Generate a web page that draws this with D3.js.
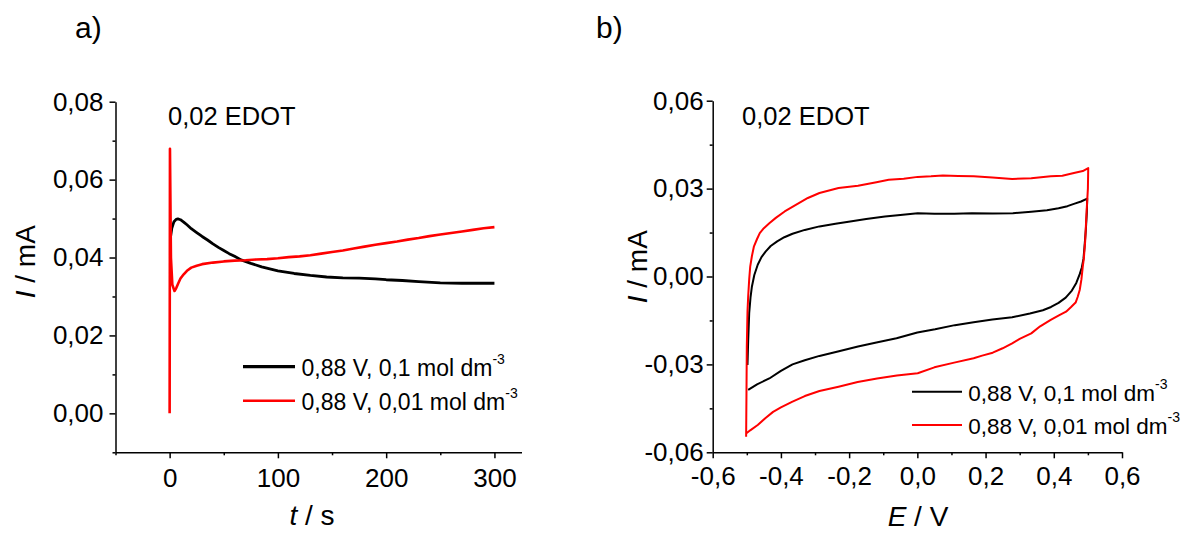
<!DOCTYPE html>
<html>
<head>
<meta charset="utf-8">
<script src="https://cdn.jsdelivr.net/npm/d3@7"></script>
<style>
  html, body { margin: 0; padding: 0; background: #fff; }
  svg { display: block; }
  text { font-family: "Liberation Sans", Arial, sans-serif; fill: #000; }
</style>
</head>
<body>
<svg id="chart" width="1190" height="533"></svg>
<script>
// ---------------- DATA ----------------
// Panel a: chronoamperometry (t / s, I / mA)
const tA_black = [0.8, 2, 4, 6, 7.6, 10, 13, 16, 20, 25, 30, 35, 40, 45, 50, 55, 60, 66, 75, 85, 100, 115, 130, 145, 160, 175, 190, 200, 215, 230, 250, 270, 285, 300];
const iA_black = [0.0452, 0.0475, 0.0492, 0.0498, 0.0499, 0.0497, 0.0491, 0.0484, 0.0474, 0.0464, 0.0454, 0.0445, 0.0435, 0.0426, 0.0418, 0.0410, 0.0403, 0.0394, 0.0385, 0.0376, 0.0366, 0.0359, 0.0354, 0.0350, 0.0348, 0.0347, 0.0345, 0.0343, 0.0341, 0.0338, 0.0335, 0.0334, 0.0334, 0.0334];

const tA_red = [0, 0.3, 1.2, 2.5, 4.5, 6, 8, 10, 13, 16, 20, 25, 30, 40, 50, 60, 70, 80, 90, 100, 110, 120, 130, 140, 150, 160, 170, 180, 190, 200, 210, 220, 230, 240, 250, 260, 270, 280, 290, 300];
const iA_red = [0.0000, 0.0679, 0.0400, 0.0330, 0.0314, 0.0321, 0.0334, 0.0346, 0.0357, 0.0366, 0.0374, 0.0379, 0.0383, 0.0387, 0.0390, 0.0392, 0.0393, 0.0395, 0.0396, 0.0398, 0.0401, 0.0403, 0.0406, 0.0410, 0.0414, 0.0418, 0.0423, 0.0428, 0.0433, 0.0437, 0.0441, 0.0446, 0.0450, 0.0455, 0.0459, 0.0463, 0.0467, 0.0471, 0.0475, 0.0478];

// Panel b: cyclic voltammetry (E / V, I / mA)
const eB_black = [-0.498, -0.496, -0.493, -0.489, -0.485, -0.478, -0.468, -0.457, -0.445, -0.430, -0.411, -0.390, -0.366, -0.330, -0.287, -0.240, -0.197, -0.150, -0.095, -0.050, 0.001, 0.050, 0.108, 0.160, 0.221, 0.280, 0.334, 0.380, 0.414, 0.440, 0.459, 0.480, 0.498,
  0.497, 0.494, 0.490, 0.487, 0.482, 0.476, 0.466, 0.453, 0.435, 0.414, 0.392, 0.368, 0.330, 0.278, 0.220, 0.165, 0.110, 0.052, 0.000, -0.061, -0.120, -0.174, -0.230, -0.287, -0.330, -0.366, -0.400, -0.434, -0.470, -0.496];
const iB_black = [-0.0302, -0.0220, -0.0125, -0.0070, -0.0034, 0.0005, 0.0040, 0.0066, 0.0085, 0.0104, 0.0120, 0.0134, 0.0146, 0.0159, 0.0171, 0.0180, 0.0188, 0.0196, 0.0205, 0.0210, 0.0216, 0.0214, 0.0214, 0.0216, 0.0215, 0.0216, 0.0221, 0.0226, 0.0233, 0.0240, 0.0248, 0.0256, 0.0266,
  0.0220, 0.0160, 0.0100, 0.0060, 0.0030, 0.0008, -0.0022, -0.0048, -0.0072, -0.0090, -0.0104, -0.0115, -0.0126, -0.0139, -0.0147, -0.0156, -0.0166, -0.0180, -0.0191, -0.0211, -0.0225, -0.0239, -0.0255, -0.0271, -0.0286, -0.0300, -0.0322, -0.0348, -0.0368, -0.0387];

const eB_red = [-0.502, -0.501, -0.500, -0.498, -0.496, -0.493, -0.490, -0.485, -0.479, -0.470, -0.462, -0.450, -0.434, -0.415, -0.389, -0.355, -0.321, -0.287, -0.231, -0.174, -0.120, -0.084, -0.040, 0.001, 0.040, 0.075, 0.120, 0.165, 0.220, 0.278, 0.334, 0.391, 0.425, 0.459, 0.485, 0.501,
  0.500, 0.496, 0.492, 0.488, 0.485, 0.481, 0.476, 0.470, 0.464, 0.450, 0.436, 0.415, 0.391, 0.360, 0.334, 0.300, 0.278, 0.250, 0.221, 0.190, 0.165, 0.108, 0.050, 0.001, -0.060, -0.118, -0.175, -0.231, -0.287, -0.330, -0.366, -0.400, -0.423, -0.445, -0.468, -0.490, -0.502];
const iB_red = [-0.0547, -0.0400, -0.0239, -0.0120, -0.0068, -0.0010, 0.0034, 0.0070, 0.0103, 0.0128, 0.0148, 0.0165, 0.0182, 0.0200, 0.0222, 0.0245, 0.0268, 0.0285, 0.0302, 0.0310, 0.0322, 0.0330, 0.0334, 0.0340, 0.0342, 0.0345, 0.0343, 0.0342, 0.0338, 0.0333, 0.0335, 0.0342, 0.0344, 0.0353, 0.0360, 0.0370,
  0.0300, 0.0217, 0.0120, 0.0060, 0.0034, -0.0010, -0.0046, -0.0070, -0.0089, -0.0105, -0.0120, -0.0133, -0.0148, -0.0170, -0.0194, -0.0213, -0.0228, -0.0245, -0.0260, -0.0270, -0.0279, -0.0294, -0.0310, -0.0330, -0.0338, -0.0348, -0.0360, -0.0376, -0.0391, -0.0408, -0.0427, -0.0447, -0.0462, -0.0483, -0.0507, -0.0525, -0.0536];

// Tick values
const ticksAxMajor = [0, 100, 200, 300];
const ticksAxMinor = [-50, 50, 150, 250];
const ticksAyMajor = [0, 0.02, 0.04, 0.06, 0.08];
const ticksAyMinor = [-0.01, 0.01, 0.03, 0.05, 0.07];
const ticksBxMajor = [-0.6, -0.4, -0.2, 0, 0.2, 0.4, 0.6];
const ticksBxMinor = [-0.5, -0.3, -0.1, 0.1, 0.3, 0.5];
const ticksByMajor = [-0.06, -0.03, 0, 0.03, 0.06];
const ticksByMinor = [-0.045, -0.015, 0.015, 0.045];

// Texts
const legendLabels = ["0,88 V, 0,1 mol dm", "0,88 V, 0,01 mol dm"];
const legendSup = "-3";
const seriesColors = ["#000000", "#ff0000"];
const noteText = "0,02 EDOT";

// ---------------- DRAW ----------------
const svg = d3.select("#chart");
const loc = d3.formatLocale({decimal: ",", thousands: ".", grouping: [3], currency: ["", ""], minus: "-"});
const f2 = loc.format(".2f"), f1 = loc.format(".1f"), f0 = loc.format("d");

function drawAxes(g, x, y, xMaj, xMin, yMaj, yMin, fx, fy, xPad, yPad) {
  g.append("g").attr("transform", `translate(0,${y.range()[0]})`)
    .call(d3.axisBottom(x).tickValues(xMaj).tickFormat(fx).tickSize(6).tickSizeOuter(0).tickPadding(xPad));
  g.append("g").attr("transform", `translate(0,${y.range()[0]})`)
    .call(d3.axisBottom(x).tickValues(xMin).tickFormat("").tickSize(3).tickSizeOuter(0))
    .select(".domain").remove();
  g.append("g").attr("transform", `translate(${x.range()[0]},0)`)
    .call(d3.axisLeft(y).tickValues(yMaj).tickFormat(fy).tickSize(6).tickSizeOuter(0).tickPadding(yPad));
  g.append("g").attr("transform", `translate(${x.range()[0]},0)`)
    .call(d3.axisLeft(y).tickValues(yMin).tickFormat("").tickSize(3).tickSizeOuter(0))
    .select(".domain").remove();
  g.selectAll(".domain, .tick line").attr("stroke", "#000").attr("stroke-width", 1.5);
  g.selectAll(".tick text").attr("font-size", 26).attr("font-family", "Liberation Sans, Arial, sans-serif").attr("fill", "#000");
}

function drawLegend(g, x0, x1, ys, textX, fontSize, widths) {
  ys.forEach((yy, i) => {
    g.append("line").attr("x1", x0).attr("x2", x1).attr("y1", yy).attr("y2", yy)
      .attr("stroke", seriesColors[i]).attr("stroke-width", widths[i]);
    const t = g.append("text").attr("x", textX).attr("y", yy + 9).attr("font-size", fontSize);
    t.append("tspan").text(legendLabels[i]);
    t.append("tspan").attr("dy", -12).attr("font-size", 14).text(legendSup);
  });
}

// ----- Panel a -----
const gA = svg.append("g");
const xA = d3.scaleLinear().domain([-50, 325]).range([115.5, 521.5]);
const yA = d3.scaleLinear().domain([-0.01, 0.08]).range([452.3, 101.7]);
drawAxes(gA, xA, yA, ticksAxMajor, ticksAxMinor, ticksAyMajor, ticksAyMinor, f0, f2, 10, 6);
const lineA = d3.line().x(d => xA(d[0])).y(d => yA(d[1]));
gA.append("path").datum(d3.zip(tA_black, iA_black)).attr("d", lineA)
  .attr("fill", "none").attr("stroke", seriesColors[0]).attr("stroke-width", 2.8).attr("stroke-linejoin", "round");
gA.append("path").datum(d3.zip(tA_red, iA_red)).attr("d", lineA)
  .attr("fill", "none").attr("stroke", seriesColors[1]).attr("stroke-width", 2.6).attr("stroke-linejoin", "round");
gA.append("text").attr("x", 168).attr("y", 125).attr("font-size", 25.5).text(noteText);
drawLegend(gA, 243, 295, [366.7, 400.7], 301.5, 23, [3.2, 2.5]);
const ytA = gA.append("text").attr("transform", "translate(34.5,261.7) rotate(-90)")
  .attr("text-anchor", "middle").attr("font-size", 28);
ytA.append("tspan").attr("font-style", "italic").text("I");
ytA.append("tspan").text(" / mA");
const xtA = gA.append("text").attr("x", 312).attr("y", 525).attr("text-anchor", "middle").attr("font-size", 28);
xtA.append("tspan").attr("font-style", "italic").text("t");
xtA.append("tspan").text(" / s");
svg.append("text").attr("x", 75).attr("y", 38.3).attr("font-size", 30)
  .attr("font-family", "Liberation Serif, Times New Roman, serif").text("a)");

// ----- Panel b -----
const gB = svg.append("g");
const xB = d3.scaleLinear().domain([-0.6, 0.6]).range([712.7, 1122]);
const yB = d3.scaleLinear().domain([-0.06, 0.06]).range([452.3, 100.7]);
drawAxes(gB, xB, yB, ticksBxMajor, ticksBxMinor, ticksByMajor, ticksByMinor, f1, f2, 8, 3);
const lineB = d3.line().x(d => xB(d[0])).y(d => yB(d[1]));
gB.append("path").datum(d3.zip(eB_black, iB_black)).attr("d", lineB)
  .attr("fill", "none").attr("stroke", seriesColors[0]).attr("stroke-width", 2).attr("stroke-linejoin", "round");
gB.append("path").datum(d3.zip(eB_red, iB_red)).attr("d", lineB)
  .attr("fill", "none").attr("stroke", seriesColors[1]).attr("stroke-width", 2).attr("stroke-linejoin", "round");
gB.append("text").attr("x", 742).attr("y", 125).attr("font-size", 25.5).text(noteText);
drawLegend(gB, 912, 962, [391.7, 425], 968.3, 22.5, [2, 2]);
const ytB = gB.append("text").attr("transform", "translate(647,266.7) rotate(-90)")
  .attr("text-anchor", "middle").attr("font-size", 28);
ytB.append("tspan").attr("font-style", "italic").text("I");
ytB.append("tspan").text(" / mA");
const xtB = gB.append("text").attr("x", 918).attr("y", 526).attr("text-anchor", "middle").attr("font-size", 28);
xtB.append("tspan").attr("font-style", "italic").text("E");
xtB.append("tspan").text(" / V");
svg.append("text").attr("x", 596).attr("y", 38.3).attr("font-size", 30)
  .attr("font-family", "Liberation Serif, Times New Roman, serif").text("b)");
</script>
</body>
</html>
